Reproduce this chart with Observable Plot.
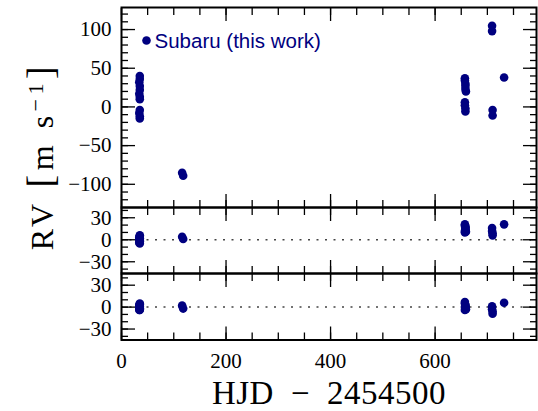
<!DOCTYPE html>
<html>
<head>
<meta charset="utf-8">
<script src="https://cdn.jsdelivr.net/npm/d3@7"></script>
<script src="https://cdn.jsdelivr.net/npm/@observablehq/plot@0.6"></script>
<style>
  html, body { margin: 0; padding: 0; background: white; }
  #chart { position: relative; width: 538px; height: 411px; background: white; }
  #chart svg { position: absolute; left: 0; overflow: visible; }
  #chart svg g[aria-label$="tick label"] text { font-family: "Liberation Serif", serif !important; font-size: 21px !important; }
  .ytitle { position: absolute; left: 40px; top: 156px; transform: translate(-50%, -50%) rotate(-90deg);
    font-family: "Liberation Serif", serif; font-size: 32px; letter-spacing: 4.5px; white-space: nowrap; line-height: 1; color: #000; }
  .ytitle .br { font-size: 38px; }
  .ytitle sup { font-size: 22px; vertical-align: 0.45em; line-height: 0; }
  .xtitle { position: absolute; left: 329px; top: 393px; transform: translate(-50%, -50%);
    font-family: "Liberation Serif", serif; font-size: 33px; letter-spacing: 0.5px; white-space: nowrap; line-height: 1; color: #000; }
</style>
</head>
<body>
<div id="chart"></div>
<script>
// ---- data ----
const hjd = [
  35, 35, 34, 35, 35, 34, 35, 35, 35, 34, 35, 35,
  116, 118,
  657, 657, 658, 658, 658, 659, 657, 657, 658, 658,
  709, 709, 710, 710,
  732
];
const rv = [
  40, 36, 32, 27, 22, 17, 13, 10, -4, -8, -12, -15,
  -85, -89,
  37, 34, 30, 27, 23, 20, 6, 2, -2, -6,
  105, 98, -4, -11,
  38
];
const resid1 = [
  6, 5, 3, 2, 1, 0, -1, -2, -3, -4, -5, 4,
  4, 1,
  21, 19, 17, 15, 13, 11, 10, 12, 14, 18,
  16, 12, 9, 6,
  21
];
const resid2 = [
  5, 4, 3, 2, 1, 0, -1, -2, -3, -4, -4, -2,
  2, -2,
  7, 5, 3, 1, -1, -3, -4, 0, 2, -2,
  1, -3, -6, -9,
  6
];
const legendLabel = "Subaru (this work)";
const xTitle = "HJD\u2002\u2212\u20022454500";

const xMajor = [0, 200, 400, 600];
const xMinor = [0, 50, 100, 150, 200, 250, 300, 350, 400, 450, 500, 550, 600, 650, 700, 750];
const yTopMajor = [-100, -50, 0, 50, 100];
const yTopMinor = [-120, -110, -100, -90, -80, -70, -60, -50, -40, -30, -20, -10, 0, 10, 20, 30, 40, 50, 60, 70, 80, 90, 100, 110, 120];
const yResMajor = [-30, 0, 30];
const yResMinor = [-40, -30, -20, -10, 0, 10, 20, 30, 40];

const rows = hjd.map((t, i) => ({t, rv: rv[i], r1: resid1[i], r2: resid2[i]}));

const NAVY = "#000080";
const W = 538, ML = 121, MR = 2;
const xDomain = [0, 794];
const fontStyle = "font-family: 'Liberation Serif', serif; font-size: 21px; background: transparent; overflow: visible;";

function frameMarks(yMajor, yMinor) {
  const tk = {strokeWidth: 1.3, label: null, fill: "none"};
  return [
    Plot.axisX(xMajor, {...tk, anchor: "bottom", tickSize: -13}),
    Plot.axisX(xMinor, {...tk, anchor: "bottom", tickSize: -7}),
    Plot.axisX(xMajor, {...tk, anchor: "top", tickSize: -13}),
    Plot.axisX(xMinor, {...tk, anchor: "top", tickSize: -7}),
    Plot.axisY(yMajor, {...tk, anchor: "left", tickSize: -14}),
    Plot.axisY(yMinor, {...tk, anchor: "left", tickSize: -7}),
    Plot.axisY(yMajor, {...tk, anchor: "right", tickSize: -14}),
    Plot.axisY(yMinor, {...tk, anchor: "right", tickSize: -7}),
    Plot.axisY(yMajor, {anchor: "left", tickSize: 0, tickPadding: 10, stroke: "none", label: null, fill: "black",
      fontFamily: "Liberation Serif", fontSize: 21}),
    Plot.frame({stroke: "black", strokeWidth: 2})
  ];
}

const topPanel = Plot.plot({
  width: W, height: 207, marginLeft: ML, marginRight: MR, marginTop: 7, marginBottom: 0,
  style: fontStyle,
  x: {domain: xDomain},
  y: {domain: [-130, 128.5]},
  marks: [
    ...frameMarks(yTopMajor, yTopMinor),
    Plot.dot(rows, {x: "t", y: "rv", r: 4.3, fill: NAVY}),
    Plot.dot([legendLabel], {frameAnchor: "top-left", dx: 25, dy: 33, r: 4.3, fill: NAVY}),
    Plot.text([legendLabel], {text: d => d, frameAnchor: "top-left", lineAnchor: "middle", dx: 33, dy: 34, textAnchor: "start",
      fontFamily: "Liberation Sans, Arial, sans-serif", fontSize: 20.5, fill: NAVY})
  ]
});
topPanel.style.top = "0px";

const midPanel = Plot.plot({
  width: W, height: 66, marginLeft: ML, marginRight: MR, marginTop: 0, marginBottom: 0,
  style: fontStyle,
  x: {domain: xDomain},
  y: {domain: [-46, 44]},
  marks: [
    Plot.ruleY([0], {stroke: "#444", strokeWidth: 1.5, strokeDasharray: "2,6.5"}),
    ...frameMarks(yResMajor, yResMinor),
    Plot.dot(rows, {x: "t", y: "r1", r: 4.3, fill: NAVY})
  ]
});
midPanel.style.top = "207px";

const botPanel = Plot.plot({
  width: W, height: 138, marginLeft: ML, marginRight: MR, marginTop: 0, marginBottom: 71.5,
  style: fontStyle,
  x: {domain: xDomain},
  y: {domain: [-45, 46]},
  marks: [
    Plot.ruleY([0], {stroke: "#444", strokeWidth: 1.5, strokeDasharray: "2,6.5"}),
    ...frameMarks(yResMajor, yResMinor),
    Plot.axisX(xMajor, {anchor: "bottom", tickSize: 0, tickPadding: 13, stroke: "none", label: null, fill: "black",
      fontFamily: "Liberation Serif", fontSize: 21}),
    Plot.dot(rows, {x: "t", y: "r2", r: 4.3, fill: NAVY})
  ]
});
botPanel.style.top = "273px";

const chart = document.getElementById("chart");
chart.append(topPanel, midPanel, botPanel);

const yt = document.createElement("div");
yt.className = "ytitle";
yt.innerHTML = "RV <span class=\"br\">[</span>m s<sup>\u22121</sup><span class=\"br\">]</span>";
chart.append(yt);

const xt = document.createElement("div");
xt.className = "xtitle";
xt.textContent = xTitle;
chart.append(xt);
</script>
</body>
</html>
